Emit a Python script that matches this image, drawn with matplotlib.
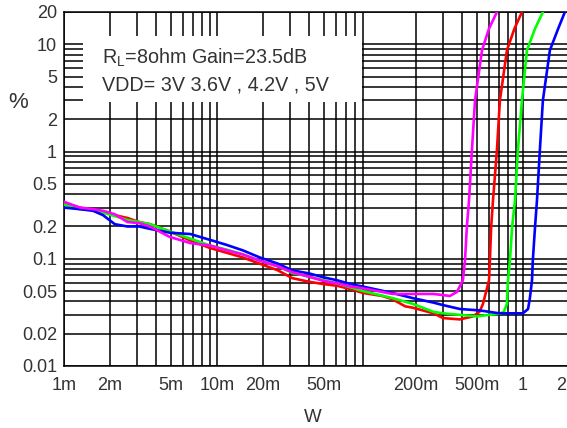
import matplotlib
matplotlib.use("Agg")
import matplotlib.pyplot as plt
import matplotlib.transforms as mtransforms
from matplotlib.ticker import FixedLocator, LogLocator, NullFormatter

plt.rcParams['font.family'] = ['Liberation Sans', 'DejaVu Sans']
plt.rcParams['mathtext.default'] = 'regular'

# output power (W) and THD+N (%)
x_5v = [0.001, 0.00127, 0.00155, 0.0018, 0.00215, 0.0026, 0.0031, 0.00365, 0.0049, 0.0067,
        0.009, 0.0115, 0.0147, 0.019, 0.025, 0.031, 0.04, 0.05, 0.061, 0.075, 0.09, 0.14,
        0.19, 0.26, 0.30, 0.387, 0.52, 0.7, 0.85, 1.0, 1.08, 1.11, 1.146, 1.16, 1.2,
        1.235, 1.29, 1.35, 1.5, 1.7, 1.88]
y_5v = [0.30, 0.29, 0.28, 0.255, 0.21, 0.20, 0.20, 0.19, 0.175, 0.17,
        0.15, 0.135, 0.12, 0.103, 0.09, 0.078, 0.073, 0.067, 0.063, 0.058, 0.055, 0.048,
        0.043, 0.039, 0.037, 0.034, 0.033, 0.031, 0.031, 0.031, 0.034, 0.043, 0.063, 0.096, 0.2,
        0.35, 1.03, 3.0, 8.8, 14.0, 20.0]

x_42v = [0.001, 0.00127, 0.00155, 0.0018, 0.00215, 0.0026, 0.0031, 0.00365, 0.0049, 0.0067,
         0.009, 0.0115, 0.0147, 0.019, 0.025, 0.031, 0.04, 0.05, 0.061, 0.075, 0.09, 0.14,
         0.19, 0.26, 0.30, 0.387, 0.5, 0.6, 0.7, 0.75, 0.786, 0.798, 0.822, 0.85, 0.887,
         0.927, 0.985, 1.062, 1.2, 1.35]
y_42v = [0.32, 0.29, 0.285, 0.27, 0.25, 0.23, 0.22, 0.21, 0.18, 0.154,
         0.133, 0.122, 0.11, 0.096, 0.085, 0.074, 0.068, 0.063, 0.059, 0.054, 0.05, 0.043,
         0.038, 0.032, 0.031, 0.030, 0.029, 0.030, 0.0307, 0.032, 0.038, 0.063, 0.096, 0.2, 0.35,
         1.03, 3.0, 8.8, 14.0, 20.0]

x_36v = [0.001, 0.00127, 0.00155, 0.0018, 0.00215, 0.0026, 0.0031, 0.00365, 0.0049, 0.0067,
         0.009, 0.0115, 0.0147, 0.019, 0.025, 0.031, 0.04, 0.05, 0.061, 0.075, 0.09, 0.12,
         0.14, 0.17, 0.19, 0.26, 0.30, 0.387, 0.471, 0.52, 0.548, 0.6, 0.608, 0.62, 0.637,
         0.676, 0.707, 0.786, 0.88, 0.985]
y_36v = [0.33, 0.30, 0.285, 0.27, 0.255, 0.24, 0.22, 0.21, 0.18, 0.148,
         0.126, 0.114, 0.103, 0.09, 0.078, 0.066, 0.061, 0.058, 0.056, 0.052, 0.048, 0.045,
         0.042, 0.036, 0.035, 0.031, 0.028, 0.0272, 0.029, 0.032, 0.038, 0.063, 0.096, 0.2, 0.35,
         1.03, 3.0, 8.8, 14.0, 20.0]

x_3v = [0.001, 0.00127, 0.00155, 0.0018, 0.00215, 0.0026, 0.0031, 0.00365, 0.0049, 0.0067,
        0.009, 0.0115, 0.0147, 0.019, 0.025, 0.031, 0.04, 0.05, 0.061, 0.075, 0.09, 0.14,
        0.19, 0.26, 0.333, 0.37, 0.405, 0.418, 0.43, 0.444, 0.464, 0.486, 0.54, 0.6, 0.676]
y_3v = [0.34, 0.30, 0.29, 0.28, 0.26, 0.22, 0.215, 0.20, 0.16, 0.14,
        0.133, 0.12, 0.11, 0.096, 0.085, 0.075, 0.068, 0.062, 0.059, 0.055, 0.053, 0.047,
        0.047, 0.047, 0.045, 0.049, 0.063, 0.096, 0.2, 0.35, 1.03, 3.0, 8.8, 14.0, 20.0]

x_ticks = [0.001, 0.002, 0.005, 0.01, 0.02, 0.05, 0.2, 0.5, 1, 2]
x_labels = ['1m', '2m', '5m', '10m', '20m', '50m', '200m', '500m', '1', '2']
y_ticks = [0.01, 0.02, 0.05, 0.1, 0.2, 0.5, 1, 2, 5, 10, 20]
y_labels = ['0.01', '0.02', '0.05', '0.1', '0.2', '0.5', '1', '2', '5', '10', '20']

txt = '#333333'

fig = plt.figure(figsize=(5.67, 4.28), dpi=100)
ax = fig.add_axes([64 / 567, 62 / 428, 505 / 567, 354 / 428])
ax.set_xscale('log')
ax.set_yscale('log')
ax.set_xlim(0.001, 2)
ax.set_ylim(0.01, 20)

ax.xaxis.set_minor_locator(LogLocator(base=10, subs=range(2, 10), numticks=20))
ax.yaxis.set_minor_locator(LogLocator(base=10, subs=range(2, 10), numticks=20))
ax.xaxis.set_minor_formatter(NullFormatter())
ax.yaxis.set_minor_formatter(NullFormatter())
ax.xaxis.set_major_locator(FixedLocator(x_ticks))
ax.yaxis.set_major_locator(FixedLocator(y_ticks))
ax.set_xticklabels(x_labels)
ax.set_yticklabels(y_labels)
ax.tick_params(which='both', length=0)
ax.tick_params(axis='x', pad=8, labelsize=13, labelcolor=txt)
ax.tick_params(axis='y', pad=5, labelsize=13, labelcolor=txt)

# the last label "2" sits at the right edge, keep it inside the picture
last = ax.get_xticklabels()[-1]
last.set_horizontalalignment('right')
last.set_transform(last.get_transform() +
                   mtransforms.ScaledTranslation(-3 / 100, 0, fig.dpi_scale_trans))

ax.grid(True, which='both', color='black', linewidth=1.1)
for s in ax.spines.values():
    s.set_color('black')
    s.set_linewidth(1.1)

ax.plot(x_3v, y_3v, color='#ff00ff', linewidth=1.9, zorder=4)
ax.plot(x_36v, y_36v, color='#ff0000', linewidth=1.9, zorder=3)
ax.plot(x_42v, y_42v, color='#00ff00', linewidth=1.9, zorder=3)
ax.plot(x_5v, y_5v, color='#0000ff', linewidth=1.9, zorder=3)

# white label box sitting on top of the grid
ax.add_patch(plt.Rectangle((0.038, 0.746), 0.552, 0.186, transform=ax.transAxes,
                           facecolor='white', edgecolor='none', zorder=5))
ax.text(0.076, 0.870, 'R$_L$=8ohm Gain=23.5dB', transform=ax.transAxes,
        fontsize=14.2, color=txt, va='center', zorder=6)
ax.text(0.076, 0.794, 'VDD= 3V 3.6V , 4.2V , 5V', transform=ax.transAxes,
        fontsize=14.2, color=txt, va='center', zorder=6)

fig.text(18 / 567, 1 - 103 / 428, '%', fontsize=16, color=txt, ha='center', va='center')
fig.text(313 / 567, 1 - 417 / 428, 'W', fontsize=13.5, color=txt, ha='center', va='center')

fig.savefig('out.png', dpi=100)
